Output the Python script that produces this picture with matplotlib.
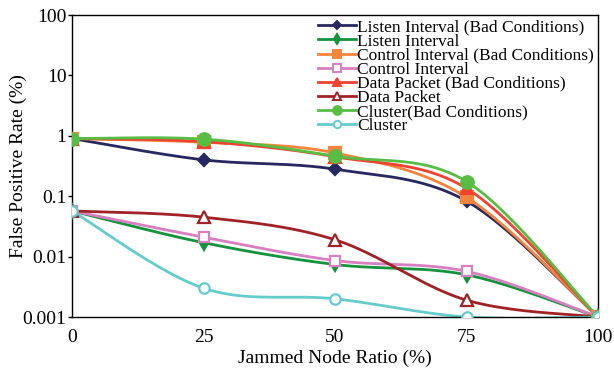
import numpy as np
import matplotlib
matplotlib.use("Agg")
import matplotlib.pyplot as plt
from matplotlib.ticker import FixedLocator, FixedFormatter, NullLocator

plt.rcParams['font.family'] = ['Liberation Serif', 'DejaVu Serif']
plt.rcParams['mathtext.fontset'] = 'stix'

# Jammed node ratio (%)
ratio = [0, 25, 50, 75, 100]

# False positive rate (%) per detection scheme
listen_bad = [0.9, 0.40, 0.28, 0.083, 0.001]
listen = [0.057, 0.017, 0.0074, 0.005, 0.001]
control_bad = [0.9, 0.78, 0.52, 0.096, 0.001]
control = [0.057, 0.021, 0.0086, 0.0057, 0.001]
data_bad = [0.9, 0.80, 0.45, 0.135, 0.001]
data = [0.057, 0.045, 0.019, 0.0019, 0.001]
cluster_bad = [0.9, 0.88, 0.46, 0.175, 0.001]
cluster = [0.057, 0.003, 0.002, 0.001, 0.001]

labels = ["Listen Interval (Bad Conditions)", "Listen Interval",
          "Control Interval (Bad Conditions)", "Control Interval",
          "Data Packet (Bad Conditions)", "Data Packet",
          "Cluster(Bad Conditions)", "Cluster"]

y_ticks = [0.001, 0.01, 0.1, 1, 10, 100]
y_tick_labels = ["0.001", "0.01", "0.1", "1", "10", "100"]
x_ticks = [0, 25, 50, 75, 100]


def smooth(xs, ys, n=40):
    """Smooth curve through the points (cubic Bezier, Catmull-Rom style),
    computed in screen-like units (linear x, log y)."""
    sx = np.asarray(xs, float) * 5.25
    sy = np.log10(np.asarray(ys, float)) * 60.0
    P = np.column_stack([sx, sy])
    m = len(P)
    out = [P[0]]
    t = np.linspace(0, 1, n)[1:, None]
    for i in range(m - 1):
        p0 = P[i - 1] if i > 0 else P[i]
        p3 = P[i + 2] if i + 2 < m else P[i + 1]
        c1 = P[i] + (P[i + 1] - p0) / 6.0
        c2 = P[i + 1] - (p3 - P[i]) / 6.0
        seg = ((1 - t) ** 3) * P[i] + 3 * ((1 - t) ** 2) * t * c1 \
            + 3 * (1 - t) * t ** 2 * c2 + t ** 3 * P[i + 1]
        out.extend(seg)
    out = np.array(out)
    return out[:, 0] / 5.25, 10 ** (out[:, 1] / 60.0)


series = [
    (listen_bad, "#27285f", "D", 6.5, True),
    (listen, "#14923c", "d", 7, True),
    (control_bad, "#f5843c", "s", 8.5, True),
    (control, "#d77fc1", "s", 7.5, False),
    (data_bad, "#ee4330", "^", 8, True),
    (data, "#a12226", "^", 8, False),
    (cluster_bad, "#57bd45", "o", 9, True),
    (cluster, "#66cccb", "o", 7.5, False),
]

fig = plt.figure(figsize=(6.14, 3.72), dpi=100)
ax = fig.add_axes([72 / 614, 1 - 317 / 372, (598 - 72) / 614, (317 - 15) / 372])

for (vals, color, marker, ms, filled), lab in zip(series, labels):
    cx, cy = smooth(ratio, vals)
    ax.plot(cx, cy, color=color, lw=2.0, zorder=2)
    ax.plot(ratio, vals, linestyle="none", marker=marker, ms=ms,
            color=color, markerfacecolor=color if filled else "white",
            markeredgewidth=1.6, zorder=3)
    ax.plot([], [], color=color, lw=2.0, marker=marker, ms=ms * 0.7,
            markerfacecolor=color if filled else "white",
            markeredgewidth=1.4, label=lab)

ax.set_yscale("log")
ax.set_xlim(0, 100)
ax.set_ylim(0.001, 100)
ax.yaxis.set_major_locator(FixedLocator(y_ticks))
ax.yaxis.set_major_formatter(FixedFormatter(y_tick_labels))
ax.yaxis.set_minor_locator(NullLocator())
ax.set_xticks(x_ticks)
ax.tick_params(axis="y", direction="out", length=3, width=1, labelsize=14, pad=1)
ax.tick_params(axis="x", length=0, labelsize=14, pad=9)
for sp in ax.spines.values():
    sp.set_linewidth(1.0)

ax.set_xlabel("Jammed Node Ratio (%)", fontsize=14, labelpad=2)
ax.set_ylabel("False Positive Rate (%)", fontsize=14, labelpad=-3)

leg = ax.legend(loc="upper right", fontsize=12.5, frameon=False,
                labelspacing=-0.12, handlelength=2.2, handletextpad=0.05,
                borderaxespad=0.1, borderpad=0.15)

fig.savefig("out.png", dpi=100)
